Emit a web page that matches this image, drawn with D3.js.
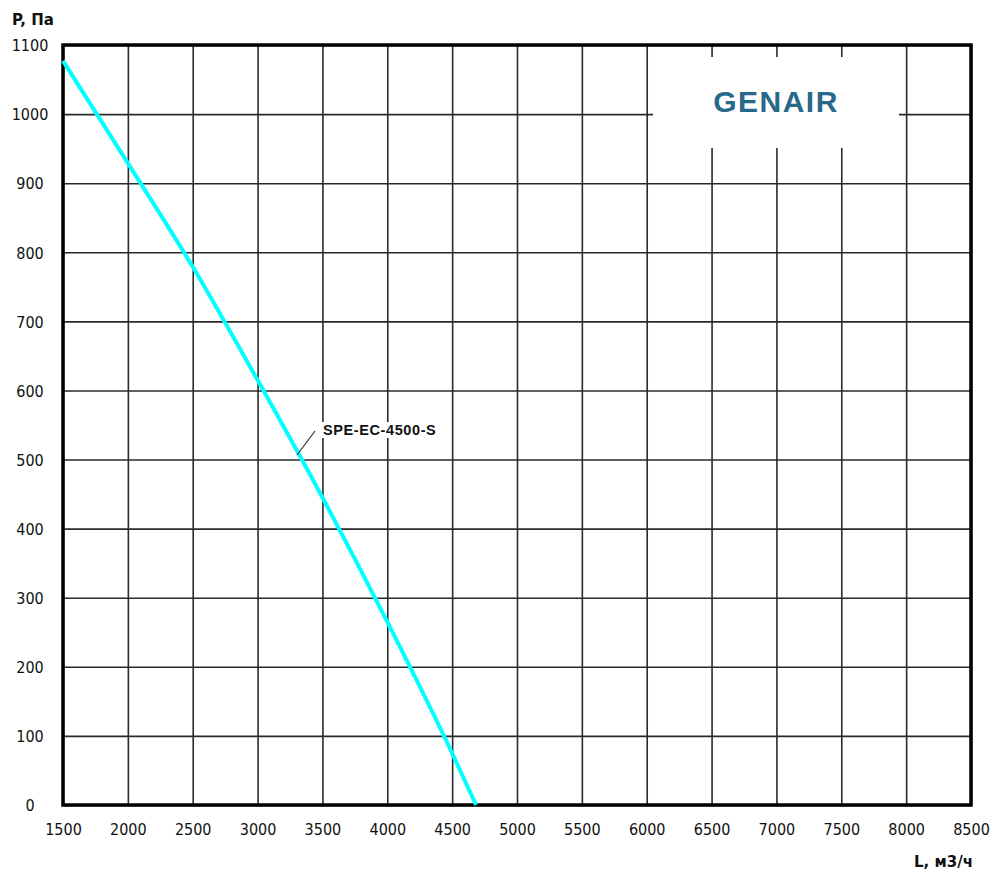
<!DOCTYPE html>
<html>
    <head>
        <meta charset="utf-8">
        <title>SPE-EC-4500-S</title>
        <script src="https://d3js.org/d3.v7.min.js"></script>
        <style>
            html, body {
                margin: 0;
                padding: 0;
                background: #FFF;
                overflow: hidden;
            }
            .tick text {
                font: 16px "DejaVu Sans Condensed", "DejaVu Sans", sans-serif;
                fill: #111;
            }
            .grid line {
                stroke: #2a2a2a;
                stroke-width: 1.6;
            }
            .domain {
                display: none;
            }
        </style>
    </head>
    <body>
        <svg id="chart" width="1000" height="881"></svg>
        <script>
            // flow L (m3/h) vs pressure P (Pa)
            const flow = [1500, 2000, 2500, 3000, 3500, 4000, 4500, 4684];
            const pressure = [1077, 929, 779, 615, 445, 265, 75, 0];
            const xTicks = [1500, 2000, 2500, 3000, 3500, 4000, 4500, 5000, 5500, 6000, 6500, 7000, 7500, 8000, 8500];
            const yTicks = [0, 100, 200, 300, 400, 500, 600, 700, 800, 900, 1000, 1100];
            const seriesName = 'SPE-EC-4500-S';
            const brand = 'GENAIR';

            const plot = {left: 63, right: 971, top: 45, bottom: 805};
            const svg = d3.select('#chart');

            const x = d3.scaleLinear().domain([1500, 8500]).range([plot.left, plot.right]);
            const y = d3.scaleLinear().domain([0, 1100]).range([plot.bottom, plot.top]);

            // grid via axes
            svg.append('g')
                .attr('class', 'grid')
                .attr('transform', `translate(0 ${plot.bottom})`)
                .call(d3.axisBottom(x).tickValues(xTicks).tickSize(-(plot.bottom - plot.top)).tickFormat(d3.format('d')))
                .call(g => g.selectAll('text').attr('y', 30).attr('dy', 0));

            const yAxis = svg.append('g')
                .attr('class', 'grid')
                .attr('transform', `translate(${plot.left} 0)`)
                .call(d3.axisLeft(y).tickValues(yTicks).tickSize(-(plot.right - plot.left)).tickFormat(d3.format('d')));
            yAxis.selectAll('text')
                .attr('text-anchor', 'middle')
                .attr('x', 30 - plot.left)
                .attr('dy', '0.36em');

            // white box behind the brand
            svg.append('rect')
                .attr('x', 653).attr('y', 57)
                .attr('width', 246).attr('height', 91)
                .attr('fill', '#FFF');
            svg.append('text')
                .attr('x', 776).attr('y', 112)
                .attr('text-anchor', 'middle')
                .attr('fill', '#28698a')
                .style('font', 'bold 30px "Liberation Sans", Arial, sans-serif')
                .style('letter-spacing', '1.5px')
                .text(brand);

            // frame
            svg.append('rect')
                .attr('x', plot.left).attr('y', plot.top)
                .attr('width', plot.right - plot.left).attr('height', plot.bottom - plot.top)
                .attr('fill', 'none')
                .attr('stroke', '#000')
                .attr('stroke-width', 3.5);

            // curve
            const points = flow.map((f, i) => [f, pressure[i]]);
            svg.append('path')
                .datum(points)
                .attr('fill', 'none')
                .attr('stroke', '#00FFFF')
                .attr('stroke-width', 4)
                .attr('d', d3.line().x(d => x(d[0])).y(d => y(d[1])).curve(d3.curveMonotoneX));

            // series label with leader
            const lblGroup = svg.append('g');
            const lblBg = lblGroup.append('rect').attr('fill', '#FFF');
            const lbl = lblGroup.append('text')
                .attr('x', 323).attr('y', 435)
                .attr('fill', '#111')
                .style('font', 'bold 14.5px "Liberation Sans", Arial, sans-serif')
                .style('letter-spacing', '0.6px')
                .text(seriesName);
            const bb = lbl.node().getBBox();
            lblBg.attr('x', bb.x - 1).attr('y', bb.y)
                .attr('width', bb.width + 2).attr('height', bb.height);
            svg.append('line')
                .attr('x1', 297).attr('y1', 455)
                .attr('x2', 315).attr('y2', 431)
                .attr('stroke', '#333')
                .attr('stroke-width', 1.2);

            // axis titles
            svg.append('text')
                .attr('x', 12).attr('y', 25)
                .style('font', 'bold 15px "DejaVu Sans", sans-serif')
                .attr('fill', '#111')
                .text('P, Па');
            svg.append('text')
                .attr('x', 973).attr('y', 867)
                .attr('text-anchor', 'end')
                .style('font', 'bold 15px "DejaVu Sans", sans-serif')
                .attr('fill', '#111')
                .text('L, м3/ч');
        </script>
    </body>
</html>
